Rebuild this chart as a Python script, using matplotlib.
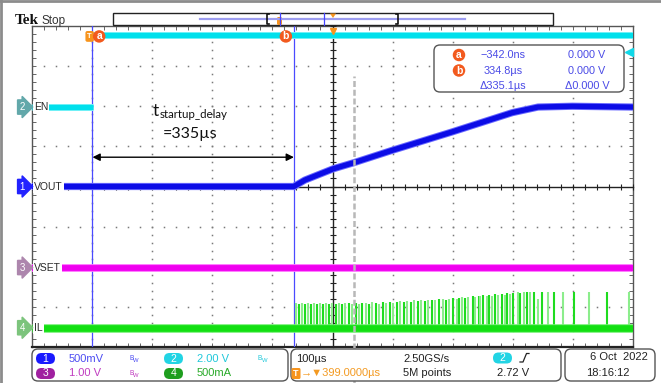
import numpy as np
import matplotlib
matplotlib.use('Agg')
import matplotlib.pyplot as plt
from matplotlib import transforms
from matplotlib.patches import FancyBboxPatch, Rectangle, Polygon
from matplotlib.lines import Line2D
from matplotlib.ticker import MultipleLocator

plt.rcParams['font.family'] = ['Liberation Sans', 'DejaVu Sans']

W, H = 661, 383

# timebase: 100 us/div, screen centre 399 us after the trigger
TIME_DIV = 100.0
DELAY = 399.0

# channel settings: units per division and ground marker position (div)
CH1_SCALE, CH1_POS = 0.5, 0.0     # VOUT 500 mV/div
CH2_SCALE, CH2_POS = 2.0, 1.98    # EN 2.00 V/div
CH3_SCALE, CH3_POS = 1.0, -2.02   # VSET 1.00 V/div
CH4_SCALE, CH4_POS = 0.5, -3.52   # IL 500 mA/div

# traces, time in us from trigger
VOUT_T = [-101, 335, 337, 353, 400, 436, 498, 598, 698, 741, 798, 899]
VOUT_V = [0.0, 0.0, 0.01, 0.08, 0.22, 0.30, 0.45, 0.68, 0.92, 0.99, 1.00, 0.99]
EN_T = [-101, 0, 0, 0, 899]
EN_V = [0.0, 0.0, np.nan, 3.6, 3.6]
VSET_T = [-101, 899]
VSET_V = [0.0, 0.0]
IL_T = [-101, 899]
IL_A = [0.0, 0.0]
IL_SPIKE_T = [338, 343, 348, 353, 358, 363, 368, 373, 378, 383, 388, 393, 398,
              405, 410, 415, 420, 426, 431, 438, 443, 448, 455, 460, 465, 471, 476, 483, 488, 495, 500,
              506, 511, 518, 523, 530, 535, 541, 546, 553, 558, 565, 570, 576,
              583, 588, 593, 600, 606, 610, 614, 620, 625, 632, 636, 642, 644, 650, 656,
              660, 664, 669, 675, 681, 686, 689, 694, 700, 707, 711, 717, 723, 728, 735,
              741, 748, 758, 768, 783, 801, 826, 856, 893]
IL_SPIKE_A = [0.31, 0.30, 0.31, 0.29, 0.31, 0.30, 0.31, 0.29, 0.31, 0.30, 0.31, 0.30, 0.31,
              0.30, 0.31, 0.30, 0.31, 0.31, 0.30, 0.31, 0.30, 0.31, 0.31, 0.30, 0.32, 0.31, 0.30, 0.32, 0.31, 0.32, 0.31,
              0.32, 0.33, 0.32, 0.33, 0.32, 0.34, 0.33, 0.34, 0.33, 0.35, 0.34, 0.35, 0.36,
              0.36, 0.35, 0.36, 0.37, 0.36, 0.37, 0.38, 0.37, 0.38, 0.39, 0.38, 0.40, 0.39, 0.41, 0.40,
              0.41, 0.40, 0.42, 0.41, 0.42, 0.41, 0.43, 0.42, 0.43, 0.44, 0.43, 0.44, 0.45, 0.44, 0.45,
              0.36, 0.45, 0.44, 0.45, 0.44, 0.45, 0.45, 0.45, 0.45]

CURSOR_A = -0.342
CURSOR_B = 334.8
MARKER_T = 435.0
TRIG_LEVEL = 2.72

READOUT = [('a', '\u2212342.0ns', '0.000 V'),
           ('b', '334.8\u00b5s', '0.000 V'),
           ('', '\u0394335.1\u00b5s', '\u03940.000 V')]


def div(values, scale, pos):
    return np.asarray(values, dtype=float) / scale + pos


fig = plt.figure(figsize=(W / 100, H / 100), dpi=100)
PX = transforms.Affine2D().scale(1 / W, -1 / H).translate(0, 1) + fig.transFigure

rect = [32 / W, 36 / H, 601 / W, 321 / H]
xlim = (DELAY - 5 * TIME_DIV, DELAY + 5 * TIME_DIV)

# graticule frame, edge ticks, dotted grid
frame = fig.add_axes(rect)
frame.set_xlim(xlim)
frame.set_ylim(-4, 4)
frame.xaxis.set_major_locator(MultipleLocator(TIME_DIV, offset=DELAY % TIME_DIV))
frame.xaxis.set_minor_locator(MultipleLocator(TIME_DIV / 5, offset=DELAY % (TIME_DIV / 5)))
frame.yaxis.set_major_locator(MultipleLocator(1))
frame.yaxis.set_minor_locator(MultipleLocator(0.2))
frame.tick_params(which='both', direction='in', top=True, right=True, length=3, width=0.7,
                  color='#666666', labelbottom=False, labelleft=False)
for s in frame.spines.values():
    s.set_color('#555555')
    s.set_linewidth(1.0)
frame.spines['bottom'].set_linewidth(1.6)
frame.spines['bottom'].set_color('#222222')

xs_dots = np.arange(xlim[0], xlim[1] + 1, TIME_DIV / 5)
ys_dots = np.arange(-4, 4.01, 0.2)
for k in range(1, 10):
    if k != 5:
        x = xlim[0] + k * TIME_DIV
        frame.plot(np.full_like(ys_dots, x), ys_dots, ls='none', marker='s', ms=1.1, mew=0, color='#7a7a7a')
for k in range(-3, 4):
    if k != 0:
        frame.plot(xs_dots, np.full_like(xs_dots, k), ls='none', marker='s', ms=1.1, mew=0, color='#7a7a7a')

# centre cross + traces
ax = fig.add_axes(rect, facecolor='none')
ax.set_xlim(xlim)
ax.set_ylim(-4, 4)
ax.spines['left'].set_position(('data', DELAY))
ax.spines['bottom'].set_position(('data', 0))
ax.spines[['top', 'right']].set_visible(False)
for s in ('left', 'bottom'):
    ax.spines[s].set_color('#222222')
    ax.spines[s].set_linewidth(1.0)
ax.xaxis.set_major_locator(MultipleLocator(TIME_DIV, offset=DELAY % TIME_DIV))
ax.xaxis.set_minor_locator(MultipleLocator(TIME_DIV / 5, offset=DELAY % (TIME_DIV / 5)))
ax.yaxis.set_major_locator(MultipleLocator(1))
ax.yaxis.set_minor_locator(MultipleLocator(0.2))
ax.tick_params(which='both', direction='inout', length=4.5, width=0.8, color='#222222',
               labelbottom=False, labelleft=False)

ax.axvline(CURSOR_A, color='#4a4aff', lw=0.9, zorder=2.8)
ax.axvline(CURSOR_B, color='#4a4aff', lw=0.9, zorder=2.8)


def trace(t, y, core, edge, lw):
    ax.plot(t, y, color=edge, lw=lw + 1.4, solid_capstyle='butt', zorder=3)
    ax.plot(t, y, color=core, lw=lw, solid_capstyle='butt', zorder=3.1)


trace(EN_T, div(EN_V, CH2_SCALE, CH2_POS), '#00e0ec', '#6cf0f6', 3.6)
il_base = div(IL_A, CH4_SCALE, CH4_POS)
ax.vlines(IL_SPIKE_T, CH4_POS, div(IL_SPIKE_A, CH4_SCALE, CH4_POS),
          colors=['#1fdc1f' if i % 2 else '#8ced8c' for i in range(len(IL_SPIKE_T))],
          lw=1.5, zorder=3)
trace(IL_T, il_base, '#12e012', '#72f072', 4.8)
trace(VSET_T, div(VSET_V, CH3_SCALE, CH3_POS), '#f000f0', '#ff70ff', 4.2)
trace(VOUT_T, div(VOUT_V, CH1_SCALE, CH1_POS), '#0c0ce6', '#6a6aff', 3.8)

# grey dashed marker running into the status bar
ax.axvline(MARKER_T, ymin=-0.115, ymax=0.845, clip_on=False, color='#b8b8b8', lw=1.8,
           ls=(0, (2.4, 1.1)), zorder=6)

# channel labels and markers
lab_tr = transforms.blended_transform_factory(ax.transAxes, ax.transData)
channels = [('EN', CH2_POS, '2', '#62a8aa'), ('VOUT', CH1_POS, '1', '#2222ff'),
            ('VSET', CH3_POS, '3', '#ad86ad'), ('IL', CH4_POS, '4', '#7cc47c')]
for name, pos, num, col in channels:
    ax.text(0.003, pos, name, transform=lab_tr, ha='left', va='center', fontsize=7.5,
            color='#2a2a2a', bbox=dict(boxstyle='square,pad=0.12', fc='white', ec='none'), zorder=4)
    ax.text(-0.016, pos, num, transform=lab_tr, ha='center', va='center', fontsize=7,
            color='white', bbox=dict(boxstyle='rarrow,pad=0.22', fc=col, ec=col),
            clip_on=False, zorder=4)

# trigger level arrow on right edge
ax.plot([0.993], [TRIG_LEVEL / CH2_SCALE + CH2_POS], transform=lab_tr, marker='<', ms=6,
        color='#10d8e8', clip_on=False, zorder=5)

# cursor tags and trigger tag
top_tr = transforms.blended_transform_factory(ax.transData, ax.transAxes)
for t, dx, lab in [(CURSOR_A, 4.8, 'a'), (CURSOR_B, -5.8, 'b')]:
    ax.annotate(lab, xy=(t, 1), xycoords=top_tr, xytext=(dx, -7.5), textcoords='offset points',
                ha='center', va='center', fontsize=7.5, fontweight='bold', color='white',
                bbox=dict(boxstyle='circle,pad=0.12', fc='#f25a1e', ec='none'),
                annotation_clip=False, zorder=6)
ax.annotate('T', xy=(0, 1), xycoords=top_tr, xytext=(-2.2, -7.5), textcoords='offset points',
            ha='center', va='center', fontsize=5.5, fontweight='bold', color='white',
            bbox=dict(boxstyle='round,pad=0.25', fc='#f7941d', ec='none'),
            annotation_clip=False, zorder=5)
ax.plot([DELAY], [0.985], transform=top_tr, marker='v', ms=5, color='#f7941d', clip_on=False, zorder=5)

# startup delay annotation
ax.annotate('', xy=(CURSOR_A, 0.73), xytext=(CURSOR_B, 0.73),
            arrowprops=dict(arrowstyle='<|-|>', color='black', lw=1.0, mutation_scale=11,
                            shrinkA=0, shrinkB=0), zorder=5)
ax.text(100, 1.76, 't', fontsize=12.5, family='Lato', va='baseline', ha='left', color='#111111')
ax.text(111, 1.71, 'startup_delay', fontsize=8.3, family='Lato', va='baseline', ha='left', color='#111111')
ax.text(117, 1.21, '=335\u00b5s', fontsize=11.5, family='Lato', va='baseline', ha='left', color='#111111')

# cursor readout box
fig.add_artist(FancyBboxPatch((434, 45), 190, 47, boxstyle='round,pad=0,rounding_size=6',
                              transform=PX, fc='white', ec='#555555', lw=1.0, zorder=7))
for i, (tag, tv, vv) in enumerate(READOUT):
    y = 55 + i * 15.5
    if tag:
        fig.text(459, y, tag, transform=PX, ha='center', va='center', fontsize=7.5, fontweight='bold',
                 color='white', bbox=dict(boxstyle='circle,pad=0.12', fc='#f25a1e', ec='none'), zorder=8)
    fig.text(503, y, tv, transform=PX, ha='center', va='center', fontsize=7.8, color='#4a4ae6', zorder=8)
    fig.text(587, y, vv, transform=PX, ha='center', va='center', fontsize=7.8, color='#4a4ae6', zorder=8)

# screenshot border
fig.add_artist(Line2D([0, W], [1.3, 1.3], transform=PX, color='#8c8c8c', lw=2.0))
fig.add_artist(Line2D([1.3, 1.3], [0, H], transform=PX, color='#8c8c8c', lw=2.0))

# header
fig.text(15, 24, 'Tek', transform=PX, family='Liberation Serif', fontweight='bold', fontsize=11,
         va='baseline', color='#111111')
fig.text(41, 24, 'Stop', transform=PX, fontsize=8.5, va='baseline', color='#333333')
fig.add_artist(Rectangle((113, 13), 440, 12, transform=PX, fc='white', ec='#222222', lw=1.0))
fig.add_artist(Line2D([200, 465], [19, 19], transform=PX, color='#9d9df0', lw=1.6))
fig.add_artist(Line2D([269, 267, 267, 269], [14, 14, 24, 24], transform=PX, color='#111111', lw=1.2))
fig.add_artist(Line2D([396, 398, 398, 396], [14, 14, 24, 24], transform=PX, color='#111111', lw=1.2))
fig.add_artist(Line2D([280, 280], [13, 25], transform=PX, color='#4444ff', lw=0.9))
fig.add_artist(Line2D([324, 324], [13, 25], transform=PX, color='#4444ff', lw=0.9))
fig.add_artist(FancyBboxPatch((277, 17), 5, 8, boxstyle='round,pad=0,rounding_size=1.5',
                              transform=PX, fc='#f7941d', ec='none'))
fig.add_artist(Polygon([[330, 13.5], [336, 13.5], [333, 18]], closed=True, transform=PX,
                       fc='#f7941d', ec='none'))

# status bar
for x0, w in [(32, 256), (291, 270), (565, 90)]:
    fig.add_artist(FancyBboxPatch((x0, 349), w, 32, boxstyle='round,pad=0,rounding_size=6',
                                  transform=PX, fc='white', ec='#555555', lw=1.0))


def pill(x, y, num, col):
    fig.add_artist(FancyBboxPatch((x, y - 5.5), 19, 11, boxstyle='round,pad=0,rounding_size=5.5',
                                  transform=PX, fc=col, ec='none'))
    fig.text(x + 9.5, y, num, transform=PX, ha='center', va='center', fontsize=7.5, color='white')


def bw(x, y, col):
    fig.text(x, y + 1, 'B', transform=PX, fontsize=4.8, color=col, va='baseline')
    fig.text(x + 3.6, y + 3, 'W', transform=PX, fontsize=4.2, color=col, va='baseline')


pill(36, 358.5, '1', '#1a1aff')
fig.text(69, 358.5, '500mV', transform=PX, va='center', fontsize=8, color='#4d4df2')
bw(129, 359, '#4d4df2')
pill(164, 358.5, '2', '#22d4e4')
fig.text(197, 358.5, '2.00 V', transform=PX, va='center', fontsize=8, color='#20c8da')
bw(258, 359, '#20c8da')
pill(36, 373.5, '3', '#a020a0')
fig.text(69, 373.5, '1.00 V', transform=PX, va='center', fontsize=8, color='#c03cc0')
bw(129, 374, '#c03cc0')
pill(164, 373.5, '4', '#1e9e1e')
fig.text(197, 373.5, '500mA', transform=PX, va='center', fontsize=8, color='#2aaa2a')

fig.text(296, 358.5, '100\u00b5s', transform=PX, va='center', fontsize=8, color='#222222')
fig.add_artist(FancyBboxPatch((291.5, 368), 9, 11, boxstyle='round,pad=0,rounding_size=1.5',
                              transform=PX, fc='#f7941d', ec='none'))
fig.text(296, 373.5, 'T', transform=PX, ha='center', va='center', fontsize=6.5, fontweight='bold',
         color='white')
fig.text(301, 373.5, '\u2192\u25bc399.0000\u00b5s', transform=PX, va='center', fontsize=8,
         color='#f39a22')
fig.text(403, 358.5, '2.50GS/s', transform=PX, va='center', fontsize=8, color='#222222')
fig.text(403, 373.5, '5M points', transform=PX, va='center', fontsize=8, color='#222222')
pill(493, 358, '2', '#22d4e4')
fig.add_artist(Line2D([520, 523, 526.5, 529], [362, 362, 353.5, 353.5], transform=PX,
                      color='#222222', lw=0.9))
fig.text(497, 373.5, '2.72 V', transform=PX, va='center', fontsize=8, color='#222222')

fig.text(648, 357.5, '6 Oct  2022', transform=PX, ha='right', va='center', fontsize=8, color='#222222')
fig.text(586, 373.5, '18:16:12', transform=PX, ha='left', va='center', fontsize=8, color='#222222')

fig.savefig('out.png', dpi=100)
